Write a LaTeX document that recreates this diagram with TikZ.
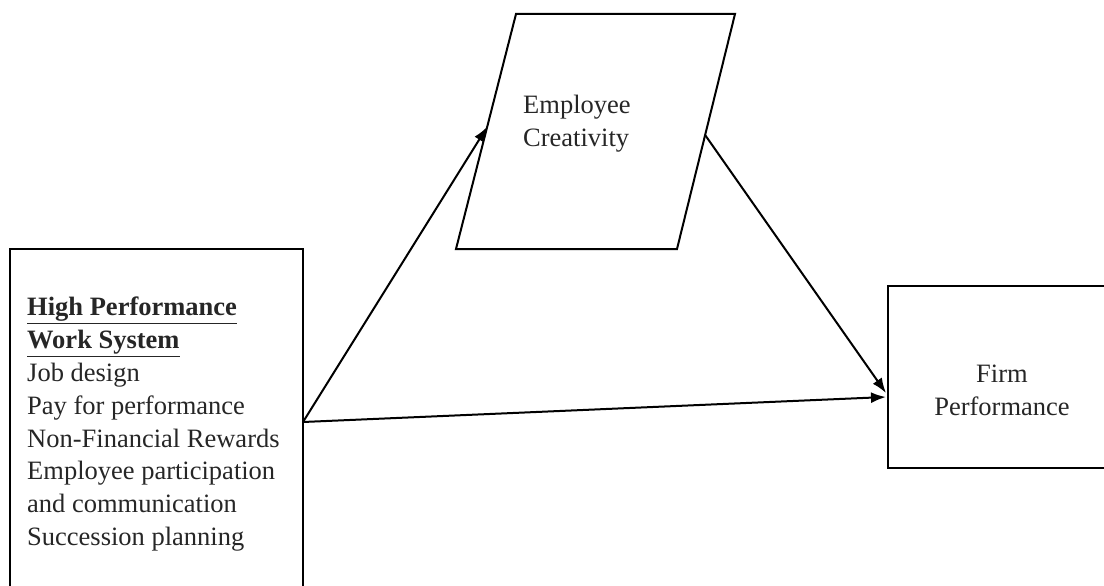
\documentclass[tikz,border=0pt]{standalone}
\usepackage{fontspec}
\setmainfont{Liberation Serif}
\usetikzlibrary{arrows.meta,calc}
\begin{document}
\begin{tikzpicture}[x=1pt,y=-1pt,
  boxline/.style={draw=black,line width=2pt},
  lbl/.style={inner sep=0pt,font=\fontsize{26.5}{32.8}\selectfont,text=black!85},
  conn/.style={draw=black,line width=2pt,-{Latex[length=15pt,width=11pt]}}]
\useasboundingbox (0,0) rectangle (1104,586);
\clip (0,0) rectangle (1104,586);
% left box
\node[boxline,rectangle,minimum width=293pt,minimum height=372pt,anchor=north west,inner sep=0pt] (hpws) at (9,248) {};
\node[lbl,align=left,anchor=north west] (hpwstext) at (27,297)
  {\underline{\textbf{High Performance}}\\\underline{\textbf{Work System}}\\Job design\\Pay for performance\\Non-Financial Rewards\\Employee participation\\and communication\\Succession planning};
% parallelogram
\coordinate (pbl) at (456,249);
\coordinate (ptl) at (516,14);
\coordinate (ptr) at (735,14);
\coordinate (pbr) at (677,249);
\draw[boxline,line join=miter] (pbl) -- (ptl) -- (ptr) -- (pbr) -- cycle;
\node[lbl,align=left,anchor=north west] (ec) at (523,95) {Employee\\Creativity};
\coordinate (ecin) at ($(pbl)!0.52!(ptl)$);
\coordinate (ecout) at ($(pbr)!0.485!(ptr)$);
% right box
\node[boxline,rectangle,minimum width=250pt,minimum height=182pt,anchor=north west,inner sep=0pt] (firm) at (887,285) {};
\node[lbl,align=center] (firmtext) at (1002,390) {Firm\\Performance};
% connectors
\coordinate (src) at (303,422);
\coordinate (tgt1) at ($(firm.north west)+(-1,112)$);
\coordinate (tgt2) at ($(firm.north west)+(-1,108)$);
\draw[conn] (src) -- (ecin);
\draw[conn] (src) -- (tgt1);
\draw[conn] (ecout) -- (tgt2);
\end{tikzpicture}
\end{document}
